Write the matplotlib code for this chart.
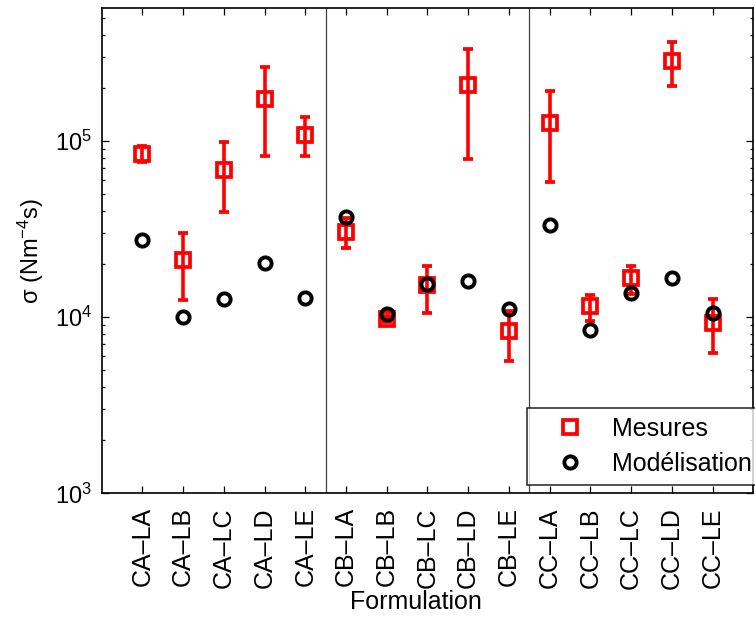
import matplotlib
matplotlib.use('Agg')
import matplotlib.pyplot as plt
import numpy as np
from matplotlib.ticker import LogLocator, NullFormatter

plt.rcParams['font.family'] = ['Liberation Sans', 'DejaVu Sans']
plt.rcParams['mathtext.fontset'] = 'custom'
plt.rcParams['mathtext.rm'] = 'Liberation Sans'
plt.rcParams['mathtext.it'] = 'Liberation Sans:italic'
plt.rcParams['mathtext.bf'] = 'Liberation Sans:bold'

# ---- data ----
categories = ['CA–LA', 'CA–LB', 'CA–LC', 'CA–LD', 'CA–LE',
              'CB–LA', 'CB–LB', 'CB–LC', 'CB–LD', 'CB–LE',
              'CC–LA', 'CC–LB', 'CC–LC', 'CC–LD', 'CC–LE']
mesures = [8.4e4, 2.1e4, 6.85e4, 1.72e5, 1.08e5,
           3.06e4, 9.8e3, 1.52e4, 2.08e5, 8.3e3,
           1.26e5, 1.15e4, 1.66e4, 2.85e5, 9.3e3]
mesures_high = [9.3e4, 3.0e4, 9.8e4, 2.64e5, 1.37e5,
                3.66e4, 1.02e4, 1.96e4, 3.31e5, 1.09e4,
                1.93e5, 1.34e4, 1.96e4, 3.66e5, 1.26e4]
mesures_low = [7.6e4, 1.25e4, 3.97e4, 8.25e4, 8.25e4,
               2.46e4, 9.4e3, 1.06e4, 7.94e4, 5.67e3,
               5.88e4, 9.57e3, 1.36e4, 2.05e5, 6.3e3]
modelisation = [2.74e4, 1.0e4, 1.26e4, 2.04e4, 1.28e4,
                3.72e4, 1.04e4, 1.55e4, 1.61e4, 1.11e4,
                3.35e4, 8.43e3, 1.37e4, 1.66e4, 1.06e4]

# ---- figure ----
fig = plt.figure(figsize=(7.55, 6.19), dpi=100)
ax = fig.add_axes([0.1347, 0.2029, 0.8630, 0.7842])

x = np.arange(1, len(categories) + 1)
m = np.array(mesures)
yerr = [m - np.array(mesures_low), np.array(mesures_high) - m]

# group dividers where prefix changes
prefixes = [c.split('–')[0] for c in categories]
for i in range(1, len(prefixes)):
    if prefixes[i] != prefixes[i - 1]:
        ax.axvline(x[i - 1] + 0.5, color='#444444', lw=0.9, zorder=1)

eb = ax.errorbar(x, m, yerr=yerr, fmt='s', color='red', mfc='none', mec='red',
                 ms=9.6, mew=2.7, elinewidth=2.6, capsize=3.6, capthick=2.6,
                 zorder=3)
circ, = ax.plot(x, modelisation, 'o', mfc='none', mec='black', ms=8.8, mew=2.8,
                zorder=4, linestyle='none')

ax.set_yscale('log')
ax.set_ylim(1e3, 5.68e5)
ax.set_xlim(0, len(categories) + 1)

ax.yaxis.set_major_locator(LogLocator(base=10))
ax.yaxis.set_minor_locator(LogLocator(base=10, subs=np.arange(2, 10)))
ax.yaxis.set_minor_formatter(NullFormatter())

ax.set_xticks(x)
ax.set_xticklabels(categories, rotation=90, fontsize=18)
ax.tick_params(axis='y', which='major', labelsize=17)
ax.tick_params(which='both', direction='in', top=True, right=True, width=0.9)
ax.tick_params(which='major', length=4.8)
ax.tick_params(which='minor', length=2.4)
ax.tick_params(axis='x', pad=10)
ax.tick_params(axis='y', pad=7)

for s in ax.spines.values():
    s.set_linewidth(1.2)

ax.set_xlabel('Formulation', fontsize=18)
ax.xaxis.set_label_coords(0.482, -0.198)
ax.set_ylabel(r'σ (Nm$^{-4}$s)', fontsize=17)
ax.yaxis.set_label_coords(-0.085, 0.5)

leg = ax.legend([eb[0], circ], ['Mesures', 'Modélisation'], loc='upper left',
                bbox_to_anchor=(0.653, 0.176), borderaxespad=0, fontsize=18,
                frameon=True, fancybox=False, edgecolor='black',
                handlelength=2.75, handletextpad=0.3, labelspacing=0.45,
                borderpad=0.35)
leg.get_frame().set_linewidth(1.2)
leg.set_zorder(10)

fig.savefig('out.png', dpi=100)
